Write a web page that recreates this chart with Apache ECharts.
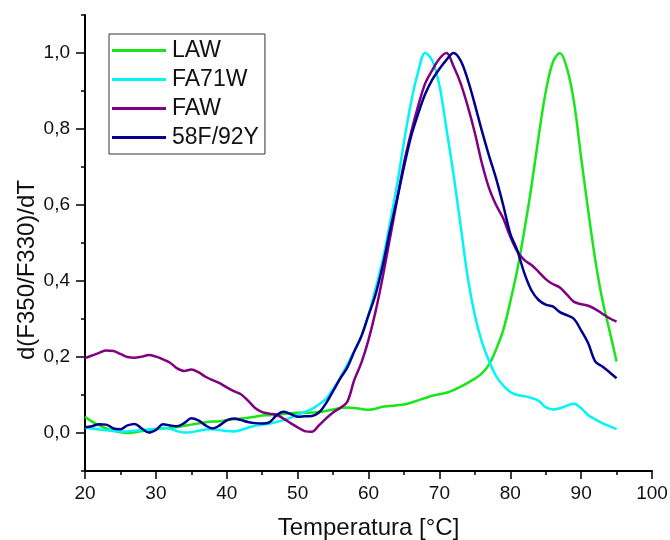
<!DOCTYPE html>
<html>
<head>
<meta charset="utf-8">
<script src="https://cdn.jsdelivr.net/npm/echarts@6/dist/echarts.min.js"></script>
<style>html,body{margin:0;padding:0;background:#fff}#c{width:670px;height:540px}</style>
</head>
<body>
<div id="c"></div>
<script>
// Temperature grid (°C)
const temps = [];
for (let t = 20; t <= 95; t++) temps.push(t);

const seriesNames = ['LAW', 'FA71W', 'FAW', '58F/92Y'];
const yMajorTicks = [0, 0.2, 0.4, 0.6, 0.8, 1.0];

const lawValues = [0.043,0.030,0.020,0.012,0.006,0.002,0.000,0.002,0.005,0.008,
0.010,0.012,0.014,0.016,0.019,0.022,0.025,0.028,0.030,0.031,
0.034,0.036,0.038,0.040,0.043,0.046,0.047,0.048,0.050,0.052,
0.053,0.053,0.054,0.055,0.058,0.062,0.066,0.067,0.066,0.063,
0.061,0.064,0.069,0.071,0.073,0.075,0.080,0.086,0.092,0.098,
0.102,0.106,0.113,0.122,0.132,0.143,0.157,0.180,0.220,0.270,
0.345,0.430,0.534,0.650,0.780,0.897,0.975,1.000,0.960,0.870,
0.725,0.585,0.455,0.350,0.270,0.188];

const fa71wValues = [0.014,0.012,0.009,0.007,0.005,0.004,0.004,0.006,0.008,0.009,
0.011,0.013,0.011,0.005,0.001,0.002,0.006,0.009,0.010,0.008,
0.005,0.004,0.008,0.014,0.019,0.022,0.024,0.029,0.034,0.040,
0.048,0.055,0.063,0.075,0.090,0.115,0.145,0.180,0.215,0.255,
0.310,0.380,0.455,0.550,0.650,0.765,0.870,0.950,1.000,0.980,
0.915,0.800,0.680,0.545,0.410,0.310,0.240,0.190,0.150,0.125,
0.108,0.100,0.097,0.092,0.085,0.068,0.062,0.065,0.072,0.077,
0.065,0.047,0.036,0.026,0.018,0.010];

const fawValues = [0.197,0.204,0.211,0.217,0.216,0.208,0.200,0.198,0.201,0.205,
0.201,0.194,0.185,0.170,0.163,0.167,0.160,0.148,0.139,0.131,
0.120,0.110,0.102,0.085,0.066,0.055,0.051,0.048,0.038,0.026,
0.015,0.005,0.003,0.020,0.038,0.054,0.066,0.082,0.140,0.185,
0.245,0.320,0.410,0.510,0.610,0.710,0.790,0.860,0.920,0.955,
0.985,1.000,0.965,0.920,0.860,0.790,0.710,0.645,0.600,0.565,
0.517,0.478,0.455,0.442,0.424,0.405,0.392,0.383,0.364,0.345,
0.339,0.335,0.326,0.314,0.302,0.293];

const f58y92Values = [0.015,0.018,0.023,0.022,0.012,0.010,0.020,0.024,0.012,0.001,
0.008,0.023,0.020,0.018,0.026,0.039,0.033,0.020,0.012,0.020,
0.033,0.038,0.034,0.029,0.026,0.025,0.028,0.046,0.056,0.050,
0.043,0.044,0.045,0.054,0.078,0.110,0.143,0.172,0.215,0.255,
0.310,0.365,0.440,0.530,0.613,0.700,0.780,0.840,0.892,0.930,
0.958,0.982,1.000,0.980,0.930,0.865,0.795,0.730,0.670,0.600,
0.525,0.480,0.420,0.375,0.350,0.338,0.333,0.318,0.310,0.300,
0.270,0.236,0.188,0.175,0.160,0.144];

const allValues = [lawValues, fa71wValues, fawValues, f58y92Values];
const colors = ['#19e619', '#00f5f5', '#800080', '#00008f'];

const FONT = '"Liberation Sans", Arial, sans-serif';

const chart = echarts.init(document.getElementById('c'), null, {renderer: 'canvas'});

function fmt(v) {
  const k = Math.round(v * 10);
  if (k < 0 || k % 2 !== 0) return '';
  return (k / 10).toFixed(1).replace('.', ',');
}

chart.setOption({
  backgroundColor: '#fff',
  animation: false,
  grid: {left: 85, right: 18, top: 15, bottom: 69, containLabel: false, outerBoundsMode: 'none'},
  legend: {
    orient: 'vertical',
    left: 109, top: 34,
    padding: [5, 6, 5, 3],
    itemGap: 6,
    itemWidth: 54,
    itemHeight: 3,
    icon: 'rect',
    borderColor: '#333',
    borderWidth: 1,
    textStyle: {fontFamily: FONT, fontSize: 23, lineHeight: 23, color: '#111', padding: [0, 0, 0, 1]},
    data: seriesNames
  },
  xAxis: {
    type: 'value',
    min: 20, max: 100, interval: 10,
    name: 'Temperatura [°C]',
    nameLocation: 'middle',
    nameGap: 45,
    nameTextStyle: {fontFamily: FONT, fontSize: 24, color: '#111'},
    axisLine: {show: true, onZero: false, lineStyle: {color: '#000', width: 2}},
    axisTick: {show: true, inside: false, length: 8, lineStyle: {color: '#000', width: 1.5}},
    minorTick: {show: true, splitNumber: 2, length: 4, lineStyle: {color: '#000', width: 1.5}},
    axisLabel: {fontFamily: FONT, fontSize: 19, color: '#111', margin: 13},
    splitLine: {show: false}
  },
  yAxis: [{
    type: 'value',
    min: -0.1, max: 1.1, interval: 0.1,
    axisLine: {show: true, onZero: false, lineStyle: {color: '#000', width: 2}},
    axisTick: {show: true, inside: false, length: 4, lineStyle: {color: '#000', width: 1.5}},
    axisLabel: {
      fontFamily: FONT, fontSize: 19, color: '#111', margin: 15,
      showMinLabel: true, showMaxLabel: true,
      formatter: fmt
    },
    splitLine: {show: false}
  }, {
    type: 'value',
    position: 'left',
    min: -0.1, max: 1.1,
    axisLine: {show: false},
    axisTick: {show: true, inside: false, length: 9, customValues: yMajorTicks, lineStyle: {color: '#000', width: 1.5}},
    axisLabel: {show: false},
    splitLine: {show: false}
  }],
  graphic: [{
    type: 'text',
    x: 27, y: 270,
    rotation: Math.PI / 2,
    style: {
      text: 'd(F350/F330)/dT',
      fontFamily: FONT, fontSize: 24, fill: '#111',
      align: 'center', verticalAlign: 'middle'
    }
  }],
  series: seriesNames.map(function (name, i) {
    return {
      name: name,
      type: 'line',
      yAxisIndex: 0,
      data: temps.map(function (t, j) { return [t, allValues[i][j]]; }),
      showSymbol: false,
      symbol: 'none',
      smooth: 0.35,
      lineStyle: {color: colors[i], width: 2.5},
      itemStyle: {color: colors[i]}
    };
  })
});
</script>
</body>
</html>
